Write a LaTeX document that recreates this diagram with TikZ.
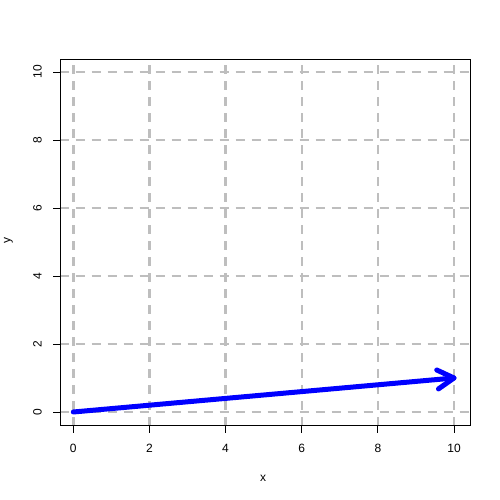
\documentclass[tikz,border=0pt]{standalone}
\usepackage{fontspec}
\setmainfont{Liberation Sans}
\usetikzlibrary{calc}
\begin{document}
\begin{tikzpicture}[x=1pt,y=1pt,
  gridline/.style={draw={rgb,255:red,190;green,190;blue,190},line width=2.4pt,dash pattern=on 9pt off 7pt},
  axisline/.style={draw=black,line width=0.8pt},
  ticklab/.style={font=\fontsize{12}{12}\selectfont,inner sep=0pt},
  vec/.style={draw={rgb,255:red,0;green,0;blue,255},line width=5pt,line cap=round,line join=round}]
\useasboundingbox (0,0) rectangle (500,500);
\def\px#1{73.3+38.07*#1}
\def\py#1{88+34*#1}
% plot region
\begin{scope}
\clip (59.5,74) rectangle (469.5,440.5);
\foreach \v in {0,2,...,10}{
  \draw[gridline] ({\px{\v}},74) -- ({\px{\v}},440.5);
  \draw[gridline] (59.5,{\py{\v}}) -- (469.5,{\py{\v}});
}
\end{scope}
% vector
\coordinate (o) at ({\px{0}},{\py{0}});
\coordinate (t) at ({\px{10}},{\py{1}});
\coordinate (a1) at ($(t)!19pt!30:(o)$);
\coordinate (a2) at ($(t)!19pt!-30:(o)$);
\draw[vec] (o) -- (t);
\draw[vec] (a1) -- (t) -- (a2);
% box
\node[draw=black,line width=0.8pt,minimum width=410pt,minimum height=366.5pt,anchor=south west,inner sep=0pt] (box) at (59.5,74) {};
% x ticks
\foreach \v in {0,2,...,10}{
  \draw[axisline] ({\px{\v}},74) -- ({\px{\v}},67);
  \node[ticklab] (xl\v) at ({\px{\v}},52) {\v};
}
% y ticks
\foreach \v in {0,2,...,10}{
  \draw[axisline] (59.5,{\py{\v}}) -- (52.5,{\py{\v}});
  \node[ticklab,rotate=90] (yl\v) at (37.5,{\py{\v}}) {\v};
}
\node[ticklab] (xlab) at (263,22) {x};
\node[ticklab,rotate=90] (ylab) at (8.5,259) {y};
\end{tikzpicture}
\end{document}
